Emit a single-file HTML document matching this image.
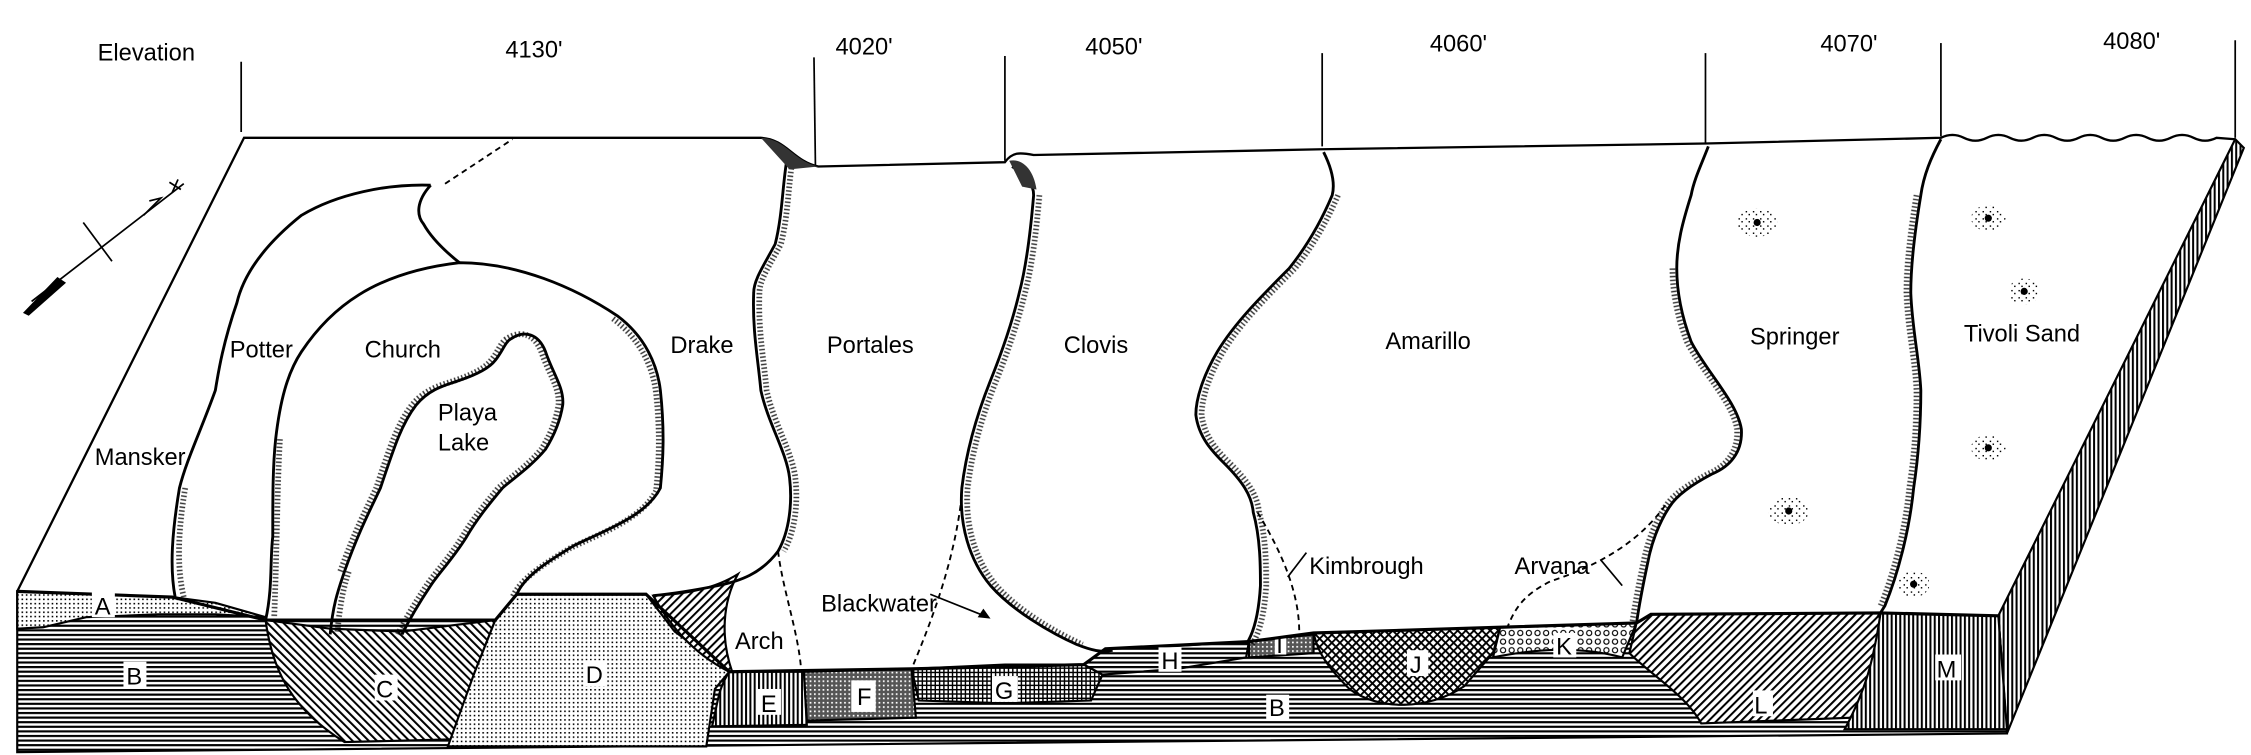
<!DOCTYPE html>
<html><head><meta charset="utf-8"><style>
html,body{margin:0;padding:0;background:#fff;}
svg{display:block;}
text{font-family:"Liberation Sans",sans-serif;font-size:16.5px;fill:#000;}
</style></head><body>
<svg width="2251" height="755" viewBox="0 0 1568 526" preserveAspectRatio="none" xmlns="http://www.w3.org/2000/svg">
<defs>
<pattern id="hz" width="4" height="3.2" patternUnits="userSpaceOnUse"><rect width="4" height="3.2" fill="#fff"/><rect y="0" width="4" height="1.5" fill="#000"/></pattern>
<pattern id="vt" width="3" height="4" patternUnits="userSpaceOnUse"><rect width="3" height="4" fill="#fff"/><rect width="1.4" height="4" fill="#000"/></pattern>
<pattern id="dg" width="4" height="4" patternUnits="userSpaceOnUse" patternTransform="rotate(45)"><rect width="4" height="4" fill="#fff"/><rect width="1.4" height="4" fill="#000"/></pattern>
<pattern id="dg2" width="4" height="4" patternUnits="userSpaceOnUse" patternTransform="rotate(-45)"><rect width="4" height="4" fill="#fff"/><rect width="1.4" height="4" fill="#000"/></pattern>
<pattern id="dot" width="3" height="3" patternUnits="userSpaceOnUse"><rect width="3" height="3" fill="#fff"/><rect width="1.1" height="1.1" fill="#000"/></pattern>
<pattern id="grid" width="3" height="3" patternUnits="userSpaceOnUse"><rect width="3" height="3" fill="#fff"/><rect width="1" height="3" fill="#000"/><rect width="3" height="1" fill="#000"/></pattern>
<pattern id="xh" width="4" height="4" patternUnits="userSpaceOnUse" patternTransform="rotate(45)"><rect width="4" height="4" fill="#fff"/><rect width="1.3" height="4" fill="#000"/><rect width="4" height="1.3" fill="#000"/></pattern>
<pattern id="circ" width="6" height="6" patternUnits="userSpaceOnUse"><rect width="6" height="6" fill="#fff"/><circle cx="3" cy="3" r="1.8" fill="none" stroke="#000" stroke-width="0.8"/></pattern>
<pattern id="dense" width="3" height="3" patternUnits="userSpaceOnUse"><rect width="3" height="3" fill="#555"/><rect width="1.2" height="1.2" fill="#fff"/></pattern>
<pattern id="spk" width="5" height="5" patternUnits="userSpaceOnUse"><rect width="5" height="5" fill="#fff"/><rect x="1" y="2" width="1" height="1" fill="#000"/><rect x="3" y="4" width="1" height="1" fill="#000"/></pattern>
</defs>

<text x="68" y="42">Elevation</text>
<text x="352" y="40">4130'</text>
<text x="582" y="38">4020'</text>
<text x="756" y="38">4050'</text>
<text x="996" y="36">4060'</text>
<text x="1268" y="36">4070'</text>
<text x="1465" y="34">4080'</text>
<g stroke="#000" stroke-width="1.2">
<line x1="168" y1="43" x2="168" y2="92"/>
<line x1="567" y1="40" x2="568" y2="115"/>
<line x1="700" y1="39" x2="700" y2="112"/>
<line x1="921" y1="37" x2="921" y2="102"/>
<line x1="1188" y1="37" x2="1188" y2="100"/>
<line x1="1352" y1="30" x2="1352" y2="95"/>
<line x1="1557" y1="28" x2="1557" y2="96"/>
</g>

<polygon points="1392,429 1557,97 1563,103 1398,511" fill="url(#vt)" stroke="#000" stroke-width="1.5"/>

<polygon points="12,412 120,416 185,432 345,432 360,414 450,414 508,468 635,466 755,463 770,452 870,447 915,441 1045,437 1140,434 1150,428 1310,427 1392,429 1398,511 12,524" fill="url(#hz)" stroke="#000" stroke-width="1.5"/>
<path d="M12,412 L120,416 L150,420 L185,430 L150,428 L110,428 L60,430 L30,437 L12,438 Z" fill="url(#dot)" stroke="#000" stroke-width="1.5"/>
<path d="M185,432 L230,438 L280,440 L345,432 L330,470 L318,515 L240,517 C205,495 190,470 185,432 Z" fill="url(#dg2)" stroke="#000" stroke-width="1.5"/>
<path d="M345,432 L360,414 L450,414 L470,440 L508,468 L498,480 L492,520 L312,520 L330,470 Z" fill="url(#dot)" stroke="#000" stroke-width="1.5"/>
<!-- wedge near Drake -->
<path d="M455,415 C478,414 498,410 514,400 C503,420 502,445 510,468 L508,468 C482,455 466,435 455,415 Z" fill="url(#dg)" stroke="#000" stroke-width="1.5"/>
<path d="M508,468 L560,468 L562,505 L496,506 C500,490 500,480 508,468 Z" fill="url(#vt)" stroke="#000" stroke-width="1.5"/>
<path d="M560,468 L635,466 L638,500 L562,502 Z" fill="url(#dense)" stroke="#000" stroke-width="1.5"/>
<rect x="593" y="474" width="17" height="22" fill="#fff"/>
<path d="M635,466 L700,463 L755,463 L768,470 L760,488 L700,490 L640,488 Z" fill="url(#grid)" stroke="#000" stroke-width="1.5"/>
<path d="M755,463 L770,452 L820,450 L870,447 L868,458 L820,466 L768,470 Z" fill="url(#hz)" stroke="#000" stroke-width="1.5"/>
<path d="M870,447 L915,442 L915,455 L870,458 Z" fill="url(#dense)" stroke="#000" stroke-width="1.5"/>
<rect x="888" y="441" width="8" height="15" fill="#fff"/>
<path d="M915,441 L1045,437 L1040,455 L1020,478 C995,495 960,495 940,480 C925,465 918,455 915,441 Z" fill="url(#xh)" stroke="#000" stroke-width="1.5"/>
<path d="M1045,437 L1140,434 L1130,458 C1100,450 1070,452 1040,458 Z" fill="url(#circ)" stroke="#000" stroke-width="1.5"/>
<path d="M1140,434 L1150,428 L1310,427 L1305,470 L1290,500 L1185,504 C1175,485 1150,470 1135,455 Z" fill="url(#dg)" stroke="#000" stroke-width="1.5"/>
<path d="M1310,427 L1392,429 L1398,508 L1285,508 C1300,480 1305,460 1310,427 Z" fill="url(#vt)" stroke="#000" stroke-width="1.5"/>
<polyline points="12,412 120,416 185,432 345,432 360,414 450,414 508,468 635,466 755,463 770,452 870,447 915,441 1045,437 1140,434 1150,428 1310,427 1392,429" fill="none" stroke="#000" stroke-width="2.2"/>
<g>
<rect x="64" y="412" width="16" height="18" fill="#fff"/><text x="66" y="428">A</text>
<rect x="86" y="461" width="16" height="18" fill="#fff"/><text x="88" y="477">B</text>
<rect x="261" y="470" width="16" height="18" fill="#fff"/><text x="262" y="486">C</text>
<rect x="407" y="460" width="16" height="18" fill="#fff"/><text x="408" y="476">D</text>
<rect x="528" y="480" width="16" height="18" fill="#fff"/><text x="530" y="496">E</text>
<text x="597" y="491">F</text>
<rect x="691" y="471" width="18" height="18" fill="#fff"/><text x="693" y="487">G</text>
<rect x="807" y="451" width="16" height="17" fill="#fff"/><text x="809" y="466">H</text>
<text x="889" y="455">I</text>
<rect x="980" y="453" width="15" height="18" fill="#fff"/><text x="982" y="469">J</text>
<rect x="1082" y="441" width="16" height="17" fill="#fff"/><text x="1084" y="456">K</text>
<rect x="1221" y="481" width="14" height="18" fill="#fff"/><text x="1222" y="497">L</text>
<rect x="1348" y="456" width="18" height="18" fill="#fff"/><text x="1349" y="472">M</text>
<rect x="882" y="484" width="16" height="17" fill="#fff"/><text x="884" y="499">B</text>
</g>

<path d="M12,412 L170,96 L530,96 C548,97 552,112 570,116 L700,113 C705,106 710,106 720,108 L921,104 L1188,100 L1352,96 Q1360,92 1368,96 Q1376,100 1384,96 Q1392,92 1400,96 Q1408,100 1416,96 Q1424,92 1432,96 Q1440,100 1448,96 Q1456,92 1464,96 Q1472,100 1480,96 Q1488,92 1496,96 Q1504,100 1512,96 Q1520,92 1528,96 Q1536,100 1544,96 L1557,97" fill="none" stroke="#000" stroke-width="1.6"/>

<g fill="none" stroke="#000" stroke-width="2">
<path d="M300,129 C270,128 235,135 210,150 C185,170 170,190 165,211 C155,240 152,260 150,272 C140,300 130,320 125,340 C120,370 118,395 122,416"/>
<path d="M300,129 C290,140 290,150 295,156 C300,165 310,175 320,183"/>
<path d="M185,432 C190,410 188,390 190,374 C190,345 190,325 192,306 C195,280 200,260 210,245 C230,215 260,190 320,183 C360,183 400,200 430,220 C450,235 458,255 460,272 C463,300 462,320 460,340 C450,360 420,370 400,380 C380,392 365,402 360,414"/>
<path d="M230,442 C232,420 236,410 240,398 C250,370 258,355 265,340 C275,310 280,295 290,282 C300,270 312,268 320,265 C335,260 342,255 345,251 C350,245 352,238 356,236 C365,230 375,232 380,245 C385,260 393,270 392,282 C390,295 385,305 380,313 C370,325 358,333 350,340 C340,352 332,362 325,374 C315,390 305,400 300,408 C292,420 285,432 280,442"/>
<path d="M548,112 C545,130 545,150 540,170 C532,185 525,195 525,204 C524,230 528,250 530,272 C535,295 548,315 550,333 C552,350 550,370 542,384 C530,400 515,405 500,408 C480,412 465,414 455,415"/>
<path d="M705,116 C715,122 720,128 720,136 C718,160 715,185 710,204 C705,225 698,245 690,265 C680,290 673,315 670,340 C668,365 675,390 690,408 C705,425 730,440 750,449 C760,453 768,455 775,453"/>
<path d="M922,106 C928,118 930,128 928,136 C920,155 910,172 898,187 C880,205 860,225 848,245 C838,262 833,278 833,289 C835,305 845,315 853,323 C865,335 872,345 873,357 C878,375 878,395 878,408 C877,425 874,440 868,449"/>
<path d="M1190,102 C1185,115 1180,125 1178,136 C1172,155 1168,170 1168,187 C1168,205 1172,222 1178,238 C1188,258 1210,280 1213,299 C1214,315 1205,325 1193,330 C1178,338 1168,345 1163,353 C1155,365 1150,380 1148,391 C1145,405 1142,420 1140,434"/>
<path d="M1352,97 C1345,110 1340,122 1338,136 C1334,160 1331,185 1331,204 C1332,230 1337,250 1338,272 C1338,300 1336,320 1333,340 C1330,370 1322,400 1313,422 L1308,430"/>
</g>
<g fill="none" stroke="#000" stroke-width="4" stroke-dasharray="1 1.6" opacity="0.8">
<path d="M125,340 C120,370 119,395 124,416" transform="translate(4,0)"/>
<path d="M192,306 C190,340 190,380 188,430" transform="translate(3,0)"/>
<path d="M430,220 C450,235 458,255 460,272 C463,300 462,320 460,340 C450,360 420,370 400,380 C380,392 365,402 360,414" transform="translate(-3,2)"/>
<path d="M240,398 C250,370 258,355 265,340 C275,310 280,295 290,282 C300,270 312,268 320,265 C335,260 342,255 345,251 C350,245 352,238 356,236 C365,230 375,232 380,245 C385,260 393,270 392,282 C390,295 385,305 380,313 C370,325 358,333 350,340 C340,352 332,362 325,374 C315,390 305,400 300,408 C292,420 285,432 280,442" transform="translate(-3,0)"/>
<path d="M232,440 C234,420 236,410 240,398" transform="translate(3,0)"/>
<path d="M548,112 C545,130 545,150 540,170 C532,185 525,195 525,204 C524,230 528,250 530,272 C535,295 548,315 550,333 C552,350 550,370 542,384" transform="translate(4,0)"/>
<path d="M720,136 C718,160 715,185 710,204 C705,225 698,245 690,265 C680,290 673,315 670,340 C668,365 675,390 690,408 C705,425 730,440 750,449" transform="translate(4,0)"/>
<path d="M928,136 C920,155 910,172 898,187 C880,205 860,225 848,245 C838,262 833,278 833,289 C835,305 845,315 853,323 C865,335 872,345 873,357 C878,375 878,395 878,408 C877,425 874,440 868,449" transform="translate(4,0)"/>
<path d="M1168,187 C1168,205 1172,222 1178,238 C1188,258 1210,280 1213,299 C1214,315 1205,325 1193,330 C1178,338 1168,345 1163,353 C1155,365 1150,380 1148,391 C1145,405 1142,420 1140,434" transform="translate(-3,0)"/>
<path d="M1338,136 C1334,160 1331,185 1331,204 C1332,230 1337,250 1338,272 C1338,300 1336,320 1333,340 C1330,370 1322,400 1313,422" transform="translate(-3,0)"/>
</g>
<path d="M530,96 C548,97 552,112 570,116 L550,118 Z" fill="#333"/>
<path d="M703,112 C712,110 720,118 722,132 L712,130 Z" fill="#333"/>

<g fill="none" stroke="#000" stroke-width="1.3" stroke-dasharray="4 3">
<path d="M310,128 L357,97"/>
<path d="M542,384 C545,410 556,440 558,466"/>
<path d="M670,345 C665,390 650,430 635,466"/>
<path d="M876,357 C890,380 905,410 905,440"/>
<path d="M1160,352 C1140,380 1110,395 1080,405 C1060,415 1055,425 1050,437"/>
</g>
<g fill="none" stroke="#000" stroke-width="1.2">
<line x1="648" y1="414" x2="688" y2="430"/>
<line x1="910" y1="385" x2="897" y2="402"/>
<line x1="1115" y1="390" x2="1130" y2="408"/>
</g>
<polygon points="690,431 681,430 685,424" fill="#000"/>
<g stroke="#000" fill="none" stroke-width="1.2">
<line x1="22" y1="210" x2="128" y2="128"/>
<line x1="58" y1="155" x2="78" y2="182"/>
<path d="M100,150 L112,138 L104,140"/>
<path d="M118,127 L126,132 M124,125 L120,134"/>
</g>
<polygon points="16,218 40,193 46,197 20,220" fill="#000"/>

<g fill="url(#spk)">
<ellipse cx="1224" cy="155" rx="14" ry="10"/>
<ellipse cx="1246" cy="356" rx="14" ry="10"/>
<ellipse cx="1385" cy="152" rx="12" ry="9"/>
<ellipse cx="1410" cy="203" rx="11" ry="9"/>
<ellipse cx="1385" cy="312" rx="12" ry="9"/>
<ellipse cx="1333" cy="407" rx="11" ry="9"/>
</g>
<g fill="#000">
<circle cx="1224" cy="155" r="2.5"/><circle cx="1246" cy="356" r="2.5"/><circle cx="1385" cy="152" r="2.5"/>
<circle cx="1410" cy="203" r="2.5"/><circle cx="1385" cy="312" r="2.5"/><circle cx="1333" cy="407" r="2.5"/>
</g>

<text x="66" y="324">Mansker</text>
<text x="160" y="249">Potter</text>
<text x="254" y="249">Church</text>
<text x="305" y="293">Playa</text>
<text x="305" y="314">Lake</text>
<text x="467" y="246">Drake</text>
<text x="576" y="246">Portales</text>
<text x="741" y="246">Clovis</text>
<text x="965" y="243">Amarillo</text>
<text x="1219" y="240">Springer</text>
<text x="1368" y="238">Tivoli Sand</text>
<text x="512" y="452">Arch</text>
<text x="572" y="426">Blackwater</text>
<text x="912" y="400">Kimbrough</text>
<text x="1055" y="400">Arvana</text>
</svg>
</body></html>
